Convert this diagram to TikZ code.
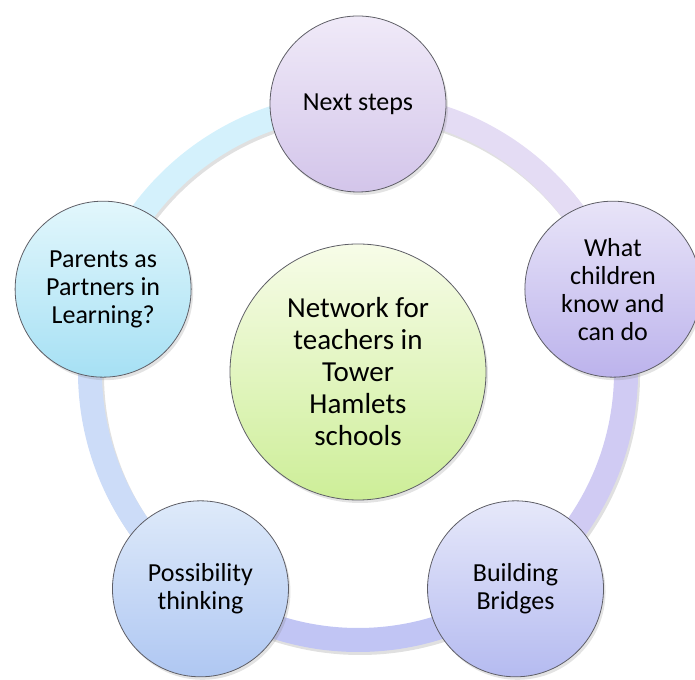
\documentclass[tikz,border=0pt]{standalone}
\usepackage{fontspec}
\setmainfont{Carlito}
\usetikzlibrary{calc, shadows, backgrounds}

\begin{document}
\begin{tikzpicture}[x=1pt, y=1pt,
    bubble/.style={circle, draw=edgeColour, line width=0.8pt, inner sep=0pt,
        minimum size=176pt, align=center, font=\fontsize{26}{28}\selectfont,
        drop shadow={shadow xshift=2pt, shadow yshift=-3pt, opacity=0.22}},
    hub/.style={bubble, minimum size=256pt, font=\fontsize{29}{32}\selectfont},
    ringband/.style={line width=24pt},
    ringshadow/.style={line width=24pt, draw=black, opacity=0.12}]
    % Define colours
    \definecolor{edgeColour}{HTML}{5E5E66}
    \definecolor{hubTop}{HTML}{F7FCE8}
    \definecolor{hubBottom}{HTML}{CDEE98}
    \definecolor{nextTop}{HTML}{F0EAF8}
    \definecolor{nextBottom}{HTML}{D3C5EA}
    \definecolor{whatTop}{HTML}{E8E4F8}
    \definecolor{whatBottom}{HTML}{BCB3EC}
    \definecolor{bridgesTop}{HTML}{E6E8FA}
    \definecolor{bridgesBottom}{HTML}{B5BBF0}
    \definecolor{possTop}{HTML}{DEEAFA}
    \definecolor{possBottom}{HTML}{AFC7F2}
    \definecolor{parentsTop}{HTML}{E2F7FC}
    \definecolor{parentsBottom}{HTML}{A6E0F4}
    \definecolor{ringOne}{HTML}{E4DCF4}
    \definecolor{ringTwo}{HTML}{D0CBF3}
    \definecolor{ringThree}{HTML}{C1C5F4}
    \definecolor{ringFour}{HTML}{CCDCF8}
    \definecolor{ringFive}{HTML}{D4F1FC}

    % Define ring size
    \def\ringRadius{268}

    \useasboundingbox (0,0) rectangle (695,679);
    \coordinate (C) at (358,307);

    % Centre circle
    \node[hub, top color=hubTop, bottom color=hubBottom] (network) at (C)
        {Network for\\teachers in\\Tower\\Hamlets\\schools};

    % Circles round the ring
    \node[bubble, top color=nextTop, bottom color=nextBottom] (next)
        at ($(C)+(90:\ringRadius)$) {Next steps};
    \node[bubble, top color=whatTop, bottom color=whatBottom] (what)
        at ($(C)+(18:\ringRadius)$) {What\\children\\know and\\can do};
    \node[bubble, top color=bridgesTop, bottom color=bridgesBottom] (bridges)
        at ($(C)+(-54:\ringRadius)$) {Building\\Bridges};
    \node[bubble, top color=possTop, bottom color=possBottom] (possibility)
        at ($(C)+(-126:\ringRadius)$) {Possibility\\thinking};
    \node[bubble, top color=parentsTop, bottom color=parentsBottom] (parents)
        at ($(C)+(-198:\ringRadius)$) {Parents as\\Partners in\\Learning?};

    % Draw the ring behind the circles
    \begin{pgfonlayer}{background}
        \foreach \from/\a/\b in {next/90/18, what/18/-54, bridges/-54/-126,
                possibility/-126/-198, parents/-198/-270}
            \draw[ringshadow] ([shift={(2,-3)}]\from.center)
                arc[start angle=\a, end angle=\b, radius=\ringRadius];
        \foreach \from/\a/\b/\col in {next/90/18/ringOne, what/18/-54/ringTwo,
                bridges/-54/-126/ringThree, possibility/-126/-198/ringFour,
                parents/-198/-270/ringFive}
            \draw[ringband, draw=\col] (\from.center)
                arc[start angle=\a, end angle=\b, radius=\ringRadius];
    \end{pgfonlayer}

\end{tikzpicture}
\end{document}
